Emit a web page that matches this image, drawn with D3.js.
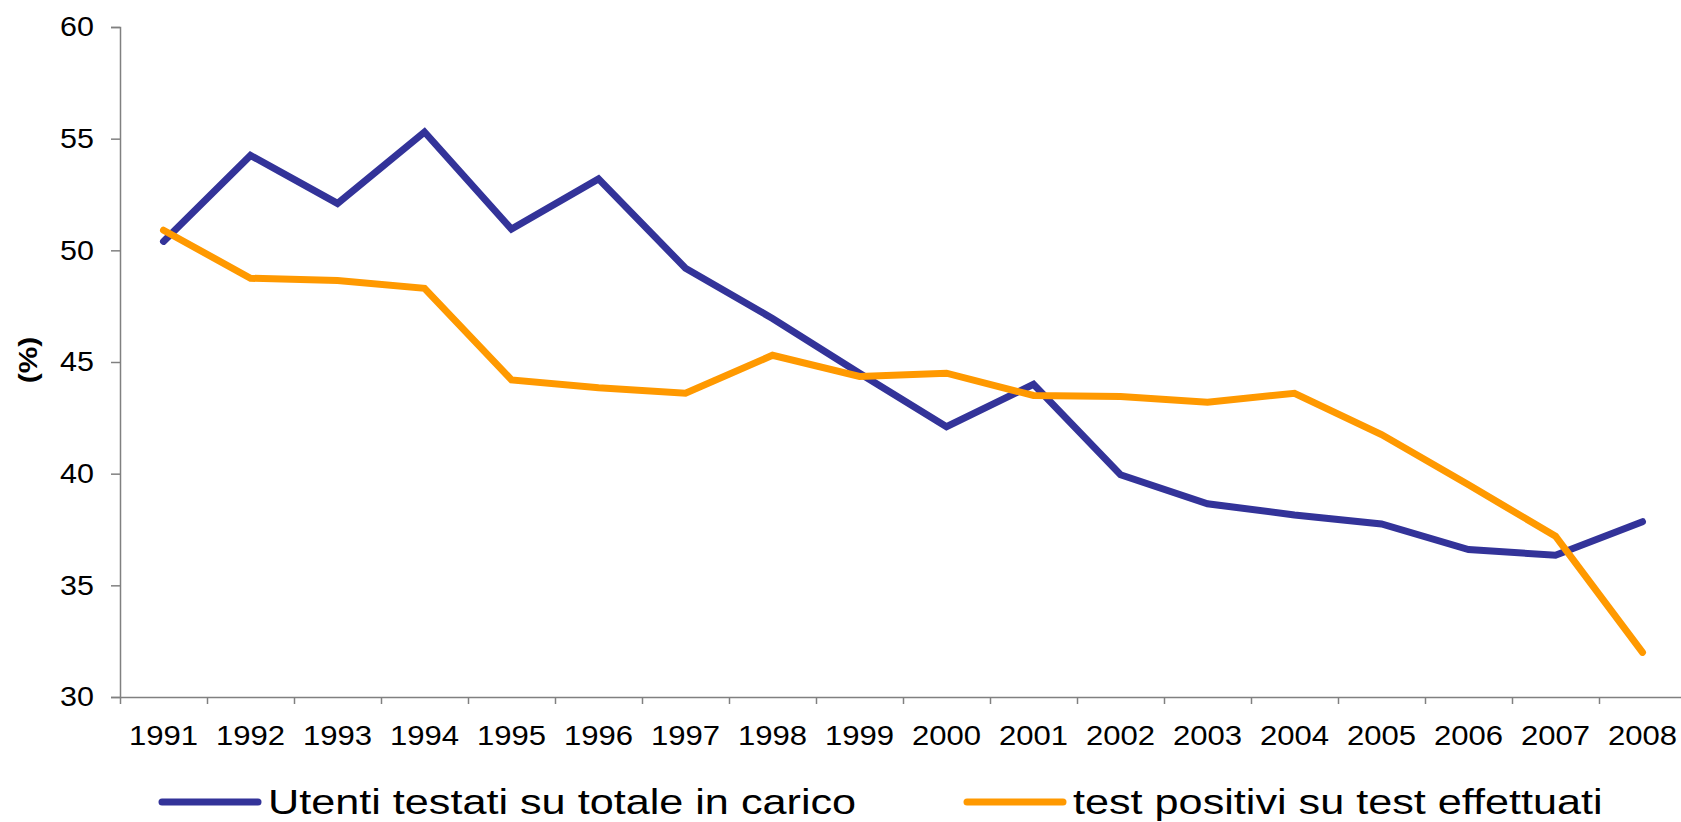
<!DOCTYPE html>
<html>
<head>
<meta charset="utf-8">
<script src="https://cdn.jsdelivr.net/npm/d3@7"></script>
<style>
  html, body { margin: 0; padding: 0; background: #fff; overflow: hidden; }
  svg { display: block; font-family: "Liberation Sans", Arial, sans-serif; }
</style>
</head>
<body>
<svg id="chart" width="1681" height="822"></svg>
<script>
// dati
const years = ["1991","1992","1993","1994","1995","1996","1997","1998","1999",
               "2000","2001","2002","2003","2004","2005","2006","2007","2008"];
const utentiTestati = [50.4, 54.25, 52.1, 55.3, 50.95, 53.2, 49.2, 46.95, 44.5,
                       42.1, 44.0, 39.95, 38.65, 38.15, 37.75, 36.6, 36.35, 37.85];
const testPositivi = [50.9, 48.75, 48.65, 48.3, 44.2, 43.85, 43.6, 45.3, 44.35,
                      44.5, 43.5, 43.45, 43.2, 43.6, 41.75, 39.5, 37.2, 32.0];
const yTicks = [30, 35, 40, 45, 50, 55, 60];
const seriesNames = ["Utenti testati su totale in carico", "test positivi su test effettuati"];
const seriesColors = ["#333399", "#FF9900"];

const plot = {left: 120, top: 27, bottom: 697, band: 87};
const stretch = 1.15;

const svg = d3.select("#chart");

const x = d3.scaleBand()
    .domain(years)
    .range([plot.left, plot.left + plot.band * years.length]);
const y = d3.scaleLinear()
    .domain([30, 60])
    .range([plot.bottom, plot.top]);

// asse y
svg.append("g")
    .attr("transform", `translate(${plot.left},0)`)
    .call(d3.axisLeft(y).tickValues(yTicks).tickSize(9).tickFormat(""))
    .call(g => g.selectAll("path, line").attr("stroke", "#808080").attr("stroke-width", 1.5));

svg.append("g").selectAll("text")
    .data(yTicks)
    .enter()
    .append("text")
    .attr("transform", d => `translate(94,${y(d)}) scale(${stretch - 0.02},1)`)
    .attr("dy", "0.35em")
    .attr("text-anchor", "end")
    .attr("font-size", 27)
    .attr("fill", "#000")
    .text(d => d);

// asse x (tacche ai bordi delle categorie)
const xEdges = d3.scaleLinear().domain([0, years.length]).range(x.range());
svg.append("g")
    .attr("transform", `translate(0,${plot.bottom})`)
    .call(d3.axisBottom(xEdges).tickValues(d3.range(0, years.length + 1)).tickSize(7).tickSizeOuter(0).tickFormat(""))
    .call(g => g.selectAll("path, line").attr("stroke", "#808080").attr("stroke-width", 1.5));

svg.append("g").selectAll("text")
    .data(years)
    .enter()
    .append("text")
    .attr("transform", d => `translate(${x(d) + x.bandwidth() / 2},745) scale(${stretch},1)`)
    .attr("text-anchor", "middle")
    .attr("font-size", 27)
    .attr("fill", "#000")
    .text(d => d);

// titolo asse y
svg.append("text")
    .attr("transform", `translate(28,360) rotate(-90) scale(${stretch},1)`)
    .attr("text-anchor", "middle")
    .attr("dy", "0.35em")
    .attr("font-size", 26)
    .attr("font-weight", "bold")
    .text("(%)");

// linee
const line = d3.line()
    .x((d, i) => x(years[i]) + x.bandwidth() / 2)
    .y(d => y(d));

[utentiTestati, testPositivi].forEach((values, i) => {
    svg.append("path")
        .datum(values)
        .attr("fill", "none")
        .attr("stroke", seriesColors[i])
        .attr("stroke-width", 7)
        .attr("stroke-linecap", "round")
        .attr("stroke-linejoin", "miter")
        .attr("d", line);
});

// legenda
const legendX = [162, 967];
seriesNames.forEach((name, i) => {
    svg.append("line")
        .attr("x1", legendX[i])
        .attr("x2", legendX[i] + 96)
        .attr("y1", 802)
        .attr("y2", 802)
        .attr("stroke", seriesColors[i])
        .attr("stroke-width", 7)
        .attr("stroke-linecap", "round");
    svg.append("text")
        .attr("transform", `translate(${legendX[i] + 106},814) scale(1.2,1)`)
        .attr("font-size", 36)
        .attr("fill", "#000")
        .text(name);
});
</script>
</body>
</html>
